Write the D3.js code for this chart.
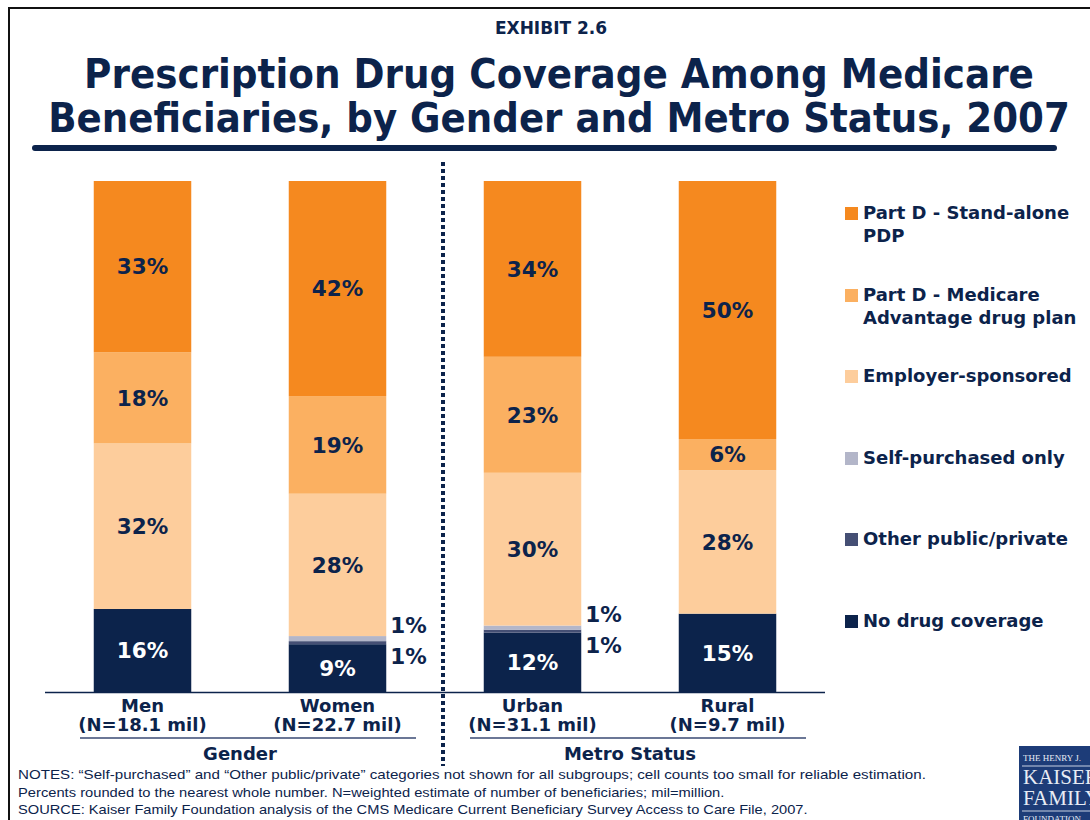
<!DOCTYPE html>
<html>
<head>
<meta charset="utf-8">
<script src="https://cdn.jsdelivr.net/npm/d3@7"></script>
<style>
  body { margin: 0; background: #fff; }
  svg { display: block; font-family: "DejaVu Sans", Verdana, sans-serif; }
</style>
</head>
<body>
<svg id="chart"></svg>
<script>
// groups along the x axis
const categories = ["Men", "Women", "Urban", "Rural"];
const sampleLabels = ["(N=18.1 mil)", "(N=22.7 mil)", "(N=31.1 mil)", "(N=9.7 mil)"];

// coverage shares (percent), stacked bottom to top
const noCoverage    = [16.2, 9.4, 11.6, 15.3];
const otherPublic   = [0, 0.6, 0.6, 0];
const selfPurchased = [0, 1.0, 0.8, 0];
const employer      = [32.3, 28.0, 29.9, 28.0];
const partDMA       = [17.8, 19.2, 22.7, 6.1];
const partDPDP      = [33.4, 42.3, 34.4, 50.4];

const seriesKeys = ["none", "other", "self", "employer", "ma", "pdp"];
const seriesNames = {
  pdp: ["Part D - Stand-alone", "PDP"],
  ma: ["Part D - Medicare", "Advantage drug plan"],
  employer: ["Employer-sponsored"],
  self: ["Self-purchased only"],
  other: ["Other public/private"],
  none: ["No drug coverage"]
};
const colors = {
  pdp: "#f5891f",
  ma: "#fbb061",
  employer: "#fdcd9c",
  self: "#b3b6c9",
  other: "#454f74",
  none: "#0c234b"
};

const navy = "#0c234b";
const W = 1090, H = 820;

const svg = d3.select("#chart").attr("width", W).attr("height", H);

// frame
svg.append("path")
  .attr("d", `M9,${H} V8 H${W}`)
  .attr("fill", "none").attr("stroke", "#111").attr("stroke-width", 2);

// header
svg.append("text").attr("x", 551).attr("y", 34)
  .attr("text-anchor", "middle").attr("font-size", 17).attr("font-weight", "bold")
  .attr("fill", navy).text("EXHIBIT 2.6");

const titleLines = [
  { t: "Prescription Drug Coverage Among Medicare", y: 88, w: 950 },
  { t: "Beneficiaries, by Gender and Metro Status, 2007", y: 132, w: 1022 }
];
svg.selectAll(".title").data(titleLines).join("text")
  .attr("class", "title")
  .attr("text-anchor", "middle").attr("font-size", 41).attr("font-weight", "bold")
  .attr("fill", navy)
  .text(d => d.t)
  .attr("transform", function (d) {
    const sx = d.w / this.getComputedTextLength();
    return `translate(559,${d.y}) scale(${sx},1)`;
  });

svg.append("line")
  .attr("x1", 35).attr("x2", 1054).attr("y1", 148).attr("y2", 148)
  .attr("stroke", navy).attr("stroke-width", 6).attr("stroke-linecap", "round");

// data table for the stack
const table = categories.map((c, i) => ({
  cat: c,
  none: noCoverage[i],
  other: otherPublic[i],
  self: selfPurchased[i],
  employer: employer[i],
  ma: partDMA[i],
  pdp: partDPDP[i]
}));

const stack = d3.stack().keys(seriesKeys).offset(d3.stackOffsetExpand);
const stacked = stack(table);

const x = d3.scaleBand().domain(categories).range([45, 825])
  .paddingInner(0.5).paddingOuter(0.25);
const y = d3.scaleLinear().domain([0, 1]).range([692, 181]);

const layers = svg.append("g").selectAll("g").data(stacked).join("g")
  .attr("fill", d => colors[d.key]);

layers.selectAll("rect").data(d => d)
  .join("rect")
  .attr("x", d => x(d.data.cat))
  .attr("width", x.bandwidth())
  .attr("y", d => y(d[1]))
  .attr("height", d => y(d[0]) - y(d[1]));

// segment labels
const fmt = v => Math.round(v) + "%";
const labels = [];
stacked.forEach(layer => {
  layer.forEach(p => {
    const v = p.data[layer.key];
    if (!v) return;
    const mid = (y(p[0]) + y(p[1])) / 2;
    if (layer.key === "self") {
      labels.push({ x: x(p.data.cat) + x.bandwidth() + 4, y: mid - 13, t: fmt(v), anchor: "start", fill: navy });
    } else if (layer.key === "other") {
      labels.push({ x: x(p.data.cat) + x.bandwidth() + 4, y: mid + 14, t: fmt(v), anchor: "start", fill: navy });
    } else {
      labels.push({
        x: x(p.data.cat) + x.bandwidth() / 2, y: mid, t: fmt(v), anchor: "middle",
        fill: layer.key === "none" ? "#fff" : navy
      });
    }
  });
});
svg.append("g").selectAll("text").data(labels).join("text")
  .attr("x", d => d.x).attr("y", d => d.y).attr("dy", "0.36em")
  .attr("text-anchor", d => d.anchor)
  .attr("font-size", 21.5).attr("font-weight", "bold")
  .attr("fill", d => d.fill).text(d => d.t);

// baseline
svg.append("line")
  .attr("x1", 45).attr("x2", 825).attr("y1", y(0) + 0.5).attr("y2", y(0) + 0.5)
  .attr("stroke", navy).attr("stroke-width", 1.5);

// category labels
const axisG = svg.append("g").selectAll("g").data(categories).join("g")
  .attr("transform", d => `translate(${x(d) + x.bandwidth() / 2},0)`)
  .attr("text-anchor", "middle").attr("font-weight", "bold").attr("fill", navy)
  .attr("font-size", 18);
axisG.append("text").attr("y", 712).text(d => d);
axisG.append("text").attr("y", 731).text((d, i) => sampleLabels[i]);

// group labels
const groups = [
  { name: "Gender", x1: 80, x2: 416, cx: 240 },
  { name: "Metro Status", x1: 470, x2: 806, cx: 630 }
];
svg.selectAll(".grp-line").data(groups).join("line")
  .attr("x1", d => d.x1).attr("x2", d => d.x2).attr("y1", 738).attr("y2", 738)
  .attr("stroke", "#6b7796").attr("stroke-width", 2);
svg.selectAll(".grp").data(groups).join("text")
  .attr("x", d => d.cx).attr("y", 760)
  .attr("text-anchor", "middle").attr("font-size", 18).attr("font-weight", "bold")
  .attr("fill", navy).text(d => d.name);

// dotted divider
svg.append("line")
  .attr("x1", 443).attr("x2", 443).attr("y1", 162).attr("y2", 766)
  .attr("stroke", navy).attr("stroke-width", 4).attr("stroke-dasharray", "4,3");

// legend
const legendItems = ["pdp", "ma", "employer", "self", "other", "none"];
const legendY = [213, 295, 376, 458, 539, 621];
const legend = svg.append("g").selectAll("g").data(legendItems).join("g")
  .attr("transform", (d, i) => `translate(845,${legendY[i]})`);
legend.append("rect").attr("x", 0).attr("y", -6).attr("width", 13).attr("height", 13)
  .attr("fill", d => colors[d]);
legend.append("text")
  .attr("x", 18).attr("font-size", 18).attr("font-weight", "bold").attr("fill", navy)
  .selectAll("tspan").data(d => seriesNames[d]).join("tspan")
  .attr("x", 18).attr("y", (d, i) => 6 + i * 23).text(d => d);

// notes
const notes = [
  "NOTES: \u201cSelf-purchased\u201d and \u201cOther public/private\u201d categories not shown for all subgroups; cell counts too small for reliable estimation.",
  "Percents rounded to the nearest whole number. N=weighted estimate of number of beneficiaries; mil=million.",
  "SOURCE: Kaiser Family Foundation analysis of the CMS Medicare Current Beneficiary Survey Access to Care File, 2007."
];
const noteW = [908, 707, 790];
svg.selectAll(".note").data(notes).join("text")
  .attr("class", "note")
  .attr("font-family", "'Liberation Sans', Arial, sans-serif")
  .attr("font-size", 13).attr("fill", navy)
  .text(d => d)
  .attr("transform", function (d, i) {
    const sx = noteW[i] / this.getComputedTextLength();
    return `translate(18,${779 + i * 17.5}) scale(${sx},1)`;
  });

// logo block (cut by the page edge, as in the original)
const logo = svg.append("g").attr("transform", "translate(1019,746)");
logo.append("rect").attr("width", 80).attr("height", 80).attr("fill", "#1d3c78");
const logoText = [
  { t: "THE HENRY J.", y: 15, s: 9 },
  { t: "KAISER", y: 38, s: 21 },
  { t: "FAMILY", y: 59, s: 21 },
  { t: "FOUNDATION", y: 76, s: 9 }
];
logo.selectAll("text").data(logoText).join("text")
  .attr("x", 4).attr("y", d => d.y).attr("font-size", d => d.s)
  .attr("font-family", "'Liberation Serif', 'DejaVu Serif', serif")
  .attr("fill", "#e8ecf5").text(d => d.t);
logo.append("line").attr("x1", 3).attr("x2", 80).attr("y1", 20).attr("y2", 20)
  .attr("stroke", "#c8d0e2").attr("stroke-width", 1);
logo.append("line").attr("x1", 3).attr("x2", 80).attr("y1", 65).attr("y2", 65)
  .attr("stroke", "#c8d0e2").attr("stroke-width", 1);
</script>
</body>
</html>
